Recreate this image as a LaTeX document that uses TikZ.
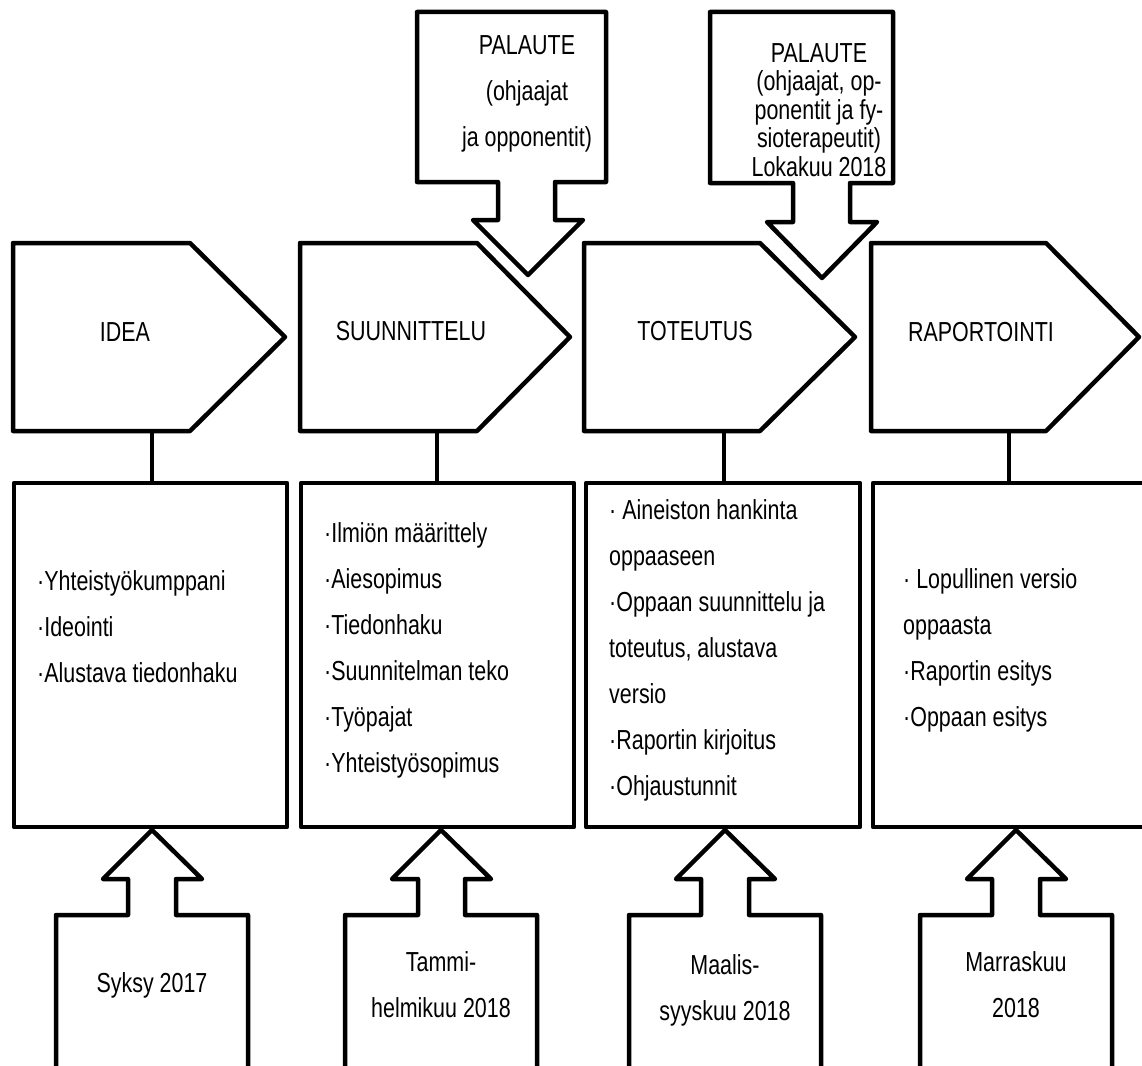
\documentclass[tikz,border=0pt]{standalone}
\usepackage{fontspec}
\setmainfont[FakeStretch=0.78]{Liberation Sans}
\begin{document}
\begin{tikzpicture}[x=1pt,y=-1pt,
  shp/.style={draw=black, fill=white, line width=4.5pt, line join=round},
  link/.style={draw=black, line width=4.5pt},
  head/.style={inner sep=0pt, font=\fontsize{27.5}{30}\selectfont},
  txt/.style={inner sep=0pt, align=left, font=\fontsize{27.5}{46}\selectfont},
  ctxt/.style={inner sep=0pt, align=center, font=\fontsize{27.5}{46}\selectfont},
  tight/.style={inner sep=0pt, align=center, font=\fontsize{27.5}{28.5}\selectfont}]
\useasboundingbox (0,0) rectangle (1142,1065);
\clip (0,0) rectangle (1142,1065);
\fill[white] (0,0) rectangle (1142,1065);

% main boxes
\draw[shp] (14,483) rectangle (287,827);
\draw[shp] (301,483) rectangle (574,827);
\draw[shp] (586,483) rectangle (860,827);
\draw[shp] (873,483) rectangle (1170,827);

% pentagons
\draw[shp] (13,243) -- (190,243) -- (285,337) -- (190,431) -- (13,431) -- cycle;
\draw[shp] (300,243) -- (477,243) -- (570,337) -- (477,431) -- (300,431) -- cycle;
\draw[shp] (584,243) -- (760,243) -- (855,337) -- (760,431) -- (584,431) -- cycle;
\draw[shp] (871,243) -- (1046,243) -- (1139,337) -- (1046,431) -- (871,431) -- cycle;

% connectors pentagon -> box
\coordinate (p1) at (152,431); \coordinate (b1) at (152,483);
\coordinate (p2) at (437,431); \coordinate (b2) at (437,483);
\coordinate (p3) at (724,431); \coordinate (b3) at (724,483);
\coordinate (p4) at (1009,431); \coordinate (b4) at (1009,483);
\draw[link] (p1) -- (b1);
\draw[link] (p2) -- (b2);
\draw[link] (p3) -- (b3);
\draw[link] (p4) -- (b4);

% top callouts
\draw[shp] (417,12) -- (606,12) -- (606,182) -- (555,182) -- (555,220) -- (583,220)
  -- (528,275) -- (473,220) -- (498,220) -- (498,182) -- (417,182) -- cycle;
\draw[shp] (710,12) -- (893,12) -- (893,183) -- (850,183) -- (850,222) -- (877,222)
  -- (822,278) -- (767,222) -- (793,222) -- (793,183) -- (710,183) -- cycle;

% bottom callouts
\draw[shp] (56,1090) -- (56,915) -- (128,915) -- (128,879) -- (103,879) -- (152,830)
  -- (202,879) -- (176,879) -- (176,915) -- (248,915) -- (248,1090);
\draw[shp] (345,1090) -- (345,915) -- (418,915) -- (418,879) -- (392,879) -- (441,830)
  -- (491,879) -- (465,879) -- (465,915) -- (537,915) -- (537,1090);
\draw[shp] (629,1090) -- (629,915) -- (701,915) -- (701,879) -- (676,879) -- (725,830)
  -- (775,879) -- (749,879) -- (749,915) -- (821,915) -- (821,1090);
\draw[shp] (920,1090) -- (920,915) -- (992,915) -- (992,879) -- (967,879) -- (1016,830)
  -- (1066,879) -- (1040,879) -- (1040,915) -- (1112,915) -- (1112,1090);

% labels
\node[head] (t1) at (125,332) {IDEA};
\node[head] (t2) at (411,331) {SUUNNITTELU};
\node[head] (t3) at (695,331) {TOTEUTUS};
\node[head] (t4) at (981,332) {RAPORTOINTI};

\node[txt, anchor=west] (l1) at (37,627) {·Yhteistyökumppani\\·Ideointi\\·Alustava tiedonhaku};
\node[txt, anchor=west] (l2) at (324,650) {·Ilmiön määrittely\\·Aiesopimus\\·Tiedonhaku\\·Suunnitelman teko\\·Työpajat\\·Yhteistyösopimus};
\node[txt, anchor=west] (l3) at (609,650) {· Aineiston hankinta\\oppaaseen\\·Oppaan suunnittelu ja\\toteutus, alustava\\versio\\·Raportin kirjoitus\\·Ohjaustunnit};
\node[txt, anchor=west] (l4) at (903,650) {· Lopullinen versio\\oppaasta\\·Raportin esitys\\·Oppaan esitys};

\node[ctxt] (f1) at (527,94) {PALAUTE\\(ohjaajat\\ja opponentit)};
\node[tight] (f2) at (819,110) {PALAUTE\\(ohjaajat, op-\\ponentit ja fy-\\sioterapeutit)\\Lokakuu 2018};

\node[ctxt] (d1) at (152,985) {Syksy 2017};
\node[ctxt] (d2) at (441,985) {Tammi-\\helmikuu 2018};
\node[ctxt] (d3) at (725,990) {Maalis-\\syyskuu 2018};
\node[ctxt] (d4) at (1016,985) {Marraskuu\\2018};
\end{tikzpicture}
\end{document}
